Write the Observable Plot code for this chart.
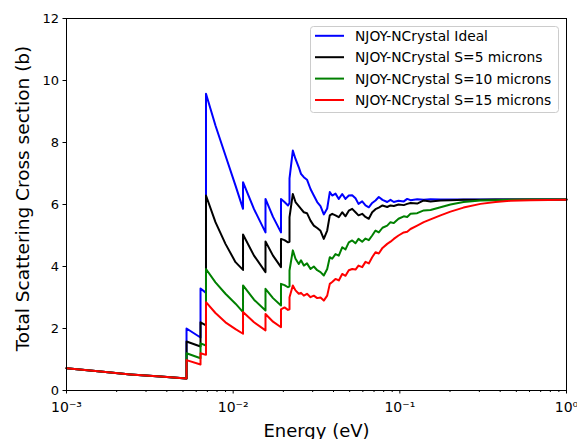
<!DOCTYPE html>
<html>
<head>
<meta charset="utf-8">
<script src="https://cdn.jsdelivr.net/npm/d3@7"></script>
<script src="https://cdn.jsdelivr.net/npm/@observablehq/plot@0.6"></script>
<style>
  html, body { margin: 0; padding: 0; background: #ffffff; }
  #chart { width: 577px; height: 439px; overflow: hidden; }
</style>
</head>
<body>
<div id="chart"></div>
<script>
// ---- Data ----
const energy = [
  0.001, 0.0016, 0.00242, 0.00366, 0.00525, 0.00525, 0.00637, 0.00637, 0.00687, 0.00687,
  0.00783, 0.00899, 0.01033, 0.01146, 0.01146, 0.01334, 0.01563, 0.01563, 0.01734, 0.01936,
  0.01936, 0.02032, 0.02133, 0.02178, 0.02178, 0.0228, 0.02366, 0.02476, 0.02553, 0.02654,
  0.02773, 0.02911, 0.03047, 0.03193, 0.03342, 0.03498, 0.03666, 0.0380, 0.03928, 0.04111,
  0.04303, 0.0451, 0.04721, 0.04941, 0.05178, 0.0542, 0.05649, 0.05945, 0.06223, 0.06513,
  0.06826, 0.07145, 0.07479, 0.0787, 0.0840, 0.0879, 0.0920, 0.0982, 0.1056, 0.1107,
  0.1159, 0.1271, 0.1392, 0.1528, 0.1754, 0.2014, 0.241, 0.3048, 0.375, 0.4613,
  0.608, 1.0
];
const ideal = [
  0.72, 0.61, 0.52, 0.45, 0.39, 2.0, 1.71, 3.29, 3.15, 9.57,
  8.55, 7.58, 6.61, 5.86, 6.72, 5.85, 5.1, 6.18, 5.6, 5.1,
  6.18, 6.08, 5.97, 6.05, 6.84, 7.74, 7.47, 7.2, 6.99, 6.88,
  6.8, 6.5, 6.29, 6.08, 5.95, 5.68, 5.87, 6.40, 6.29, 6.35,
  6.18, 6.34, 6.18, 6.29, 6.3, 6.2, 6.02, 6.1, 5.97, 5.91,
  6.05, 6.13, 6.24, 6.15, 6.08, 6.15, 6.08, 6.12, 6.1, 6.18,
  6.14, 6.17, 6.15, 6.17, 6.16, 6.16, 6.16, 6.16, 6.16, 6.16,
  6.16, 6.16
];
const s5 = [
  0.72, 0.61, 0.52, 0.45, 0.39, 1.58, 1.42, 2.2, 2.1, 6.29,
  5.43, 4.73, 4.14, 3.89, 5.03, 4.35, 3.82, 4.81, 4.35, 3.98,
  4.89, 4.85, 4.78, 4.8, 5.59, 6.34, 6.08, 5.95, 5.86, 5.75,
  5.72, 5.48, 5.32, 5.24, 5.15, 4.89, 5.16, 5.65, 5.70, 5.65,
  5.59, 5.75, 5.62, 5.8, 5.86, 5.75, 5.65, 5.7, 5.6, 5.54,
  5.75, 5.85, 5.9, 5.97, 5.92, 5.97, 5.95, 6.0, 5.98, 6.02,
  6.05, 6.03, 6.13, 6.1, 6.13, 6.14, 6.15, 6.15, 6.16, 6.16,
  6.16, 6.16
];
const s10 = [
  0.72, 0.61, 0.52, 0.45, 0.39, 1.2, 1.04, 1.52, 1.45, 3.92,
  3.49, 3.12, 2.80, 2.53, 3.39, 2.93, 2.58, 3.28, 2.98, 2.74,
  3.44, 3.40, 3.33, 3.36, 3.87, 4.52, 4.25, 4.08, 4.2, 4.03,
  4.1, 3.92, 4.0, 3.88, 3.82, 3.71, 3.92, 4.30, 4.25, 4.40,
  4.35, 4.62, 4.55, 4.78, 4.84, 4.75, 4.89, 4.8, 4.9, 4.85,
  5.0, 5.16, 5.1, 5.25, 5.32, 5.43, 5.4, 5.54, 5.62, 5.6,
  5.70, 5.72, 5.81, 5.82, 5.91, 6.0, 6.08, 6.13, 6.14, 6.15,
  6.16, 6.16
];
const s15 = [
  0.72, 0.61, 0.52, 0.45, 0.39, 0.98, 0.84, 1.2, 1.15, 2.85,
  2.5, 2.2, 1.98, 1.83, 2.53, 2.2, 1.94, 2.47, 2.22, 2.04,
  2.62, 2.68, 2.6, 2.62, 3.01, 3.39, 3.23, 3.12, 3.15, 3.06,
  3.12, 3.01, 3.06, 2.98, 3.0, 2.9, 3.06, 3.44, 3.50, 3.6,
  3.55, 3.76, 3.7, 3.88, 3.92, 3.9, 4.03, 3.98, 4.15, 4.1,
  4.30, 4.46, 4.42, 4.6, 4.73, 4.8, 4.89, 5.0, 5.1, 5.12,
  5.21, 5.32, 5.43, 5.52, 5.65, 5.77, 5.9, 6.02, 6.08, 6.12,
  6.14, 6.15
];
const seriesNames = [
  "NJOY-NCrystal Ideal",
  "NJOY-NCrystal S=5 microns",
  "NJOY-NCrystal S=10 microns",
  "NJOY-NCrystal S=15 microns"
];
const seriesColors = ["#0000ff", "#000000", "#008000", "#ff0000"];
const xTicks = [0.001, 0.01, 0.1, 1];
const xTickLabels = ["10\u207B\u00B3", "10\u207B\u00B2", "10\u207B\u00B9", "10\u2070"];
const yTicks = [0, 2, 4, 6, 8, 10, 12];
const xLabel = "Energy (eV)";
const yLabel = "Total Scattering Cross section (b)";

// ---- Build ----
const seriesValues = [ideal, s5, s10, s15];
const rows = seriesValues.map((vals, k) =>
  energy.map((e, i) => ({ series: seriesNames[k], energy: e, value: vals[i] }))
);
const minorTicks = [];
for (const base of [0.001, 0.01, 0.1]) for (let m = 2; m <= 9; m++) minorTicks.push(base * m);

const chart = Plot.plot({
  width: 577,
  height: 439,
  marginLeft: 66,
  marginRight: 11,
  marginTop: 18,
  marginBottom: 49,
  style: { fontFamily: "DejaVu Sans", fontSize: "13px", background: "#ffffff", color: "#000000" },
  x: { type: "log", domain: [0.001, 1] },
  y: { domain: [0, 12] },
  marks: [
    Plot.axisX({ ticks: minorTicks, tickSize: 2, tickFormat: () => "", label: null }),
    Plot.axisX({ ticks: xTicks, tickSize: 3.5, tickPadding: 8, tickFormat: d => xTickLabels[xTicks.indexOf(d)], label: null, fontSize: 14 }),
    Plot.axisY({ ticks: yTicks, tickSize: 3.5, tickPadding: 4, label: null, fontSize: 13 }),
    ...rows.map((r, k) => Plot.line(r, { x: "energy", y: "value", stroke: seriesColors[k], strokeWidth: 2, curve: "linear" })),
    Plot.frame({ stroke: "#000000", strokeWidth: 1 }),
    Plot.text([xLabel], { frameAnchor: "bottom", dy: 46, lineAnchor: "bottom", textAnchor: "middle", fontSize: 18, text: d => d }),
    Plot.text([yLabel], { frameAnchor: "left", dx: -43, dy: -6, rotate: -90, textAnchor: "middle", lineAnchor: "middle", fontSize: 18.5, text: d => d })
  ]
});

// Legend inside the plot area (top-right), like the reference
const svg = d3.select(chart);
const lg = svg.append("g").attr("font-family", "DejaVu Sans").attr("font-size", "13.8px").attr("text-anchor", "start");
lg.append("rect")
  .attr("x", 310.5).attr("y", 26.5).attr("width", 248).attr("height", 86).attr("rx", 3)
  .attr("fill", "#ffffff").attr("fill-opacity", 0.85).attr("stroke", "#cccccc");
seriesNames.forEach((name, i) => {
  const yy = 35.8 + i * 21.4;
  lg.append("line").attr("x1", 315).attr("x2", 344).attr("y1", yy).attr("y2", yy)
    .attr("stroke", seriesColors[i]).attr("stroke-width", 2);
  lg.append("text").attr("x", 355).attr("y", yy).attr("dy", "0.36em")
    .attr("text-anchor", "start").attr("fill", "#000000").text(name);
});

document.getElementById("chart").appendChild(chart);
</script>
</body>
</html>
